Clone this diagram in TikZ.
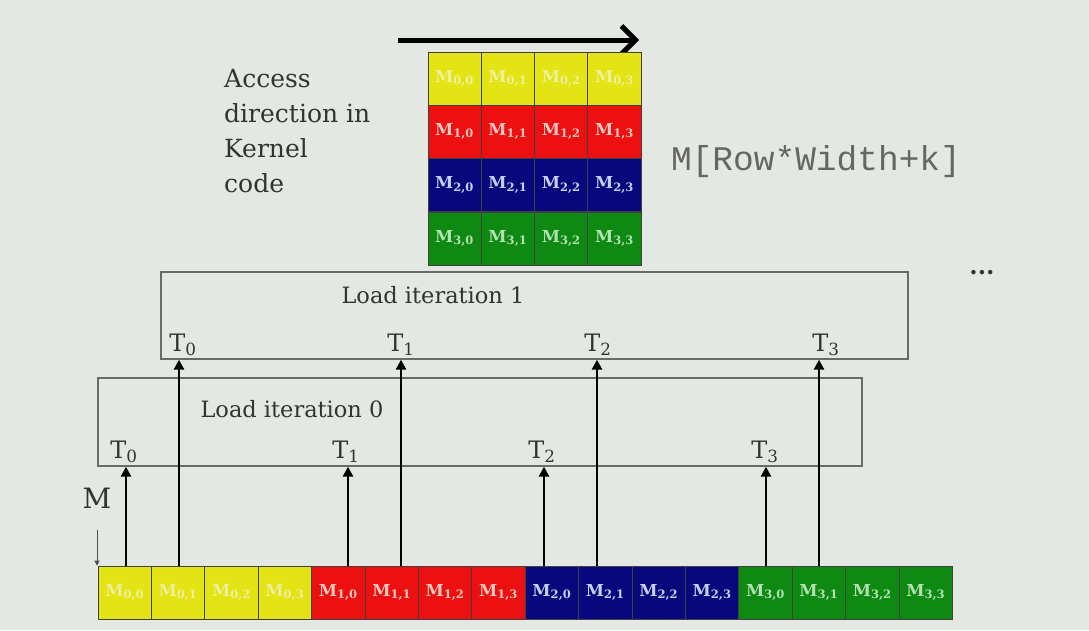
\documentclass[tikz,border=0pt]{standalone}
\usepackage{fontspec}
\setmainfont{DejaVu Serif}
\setmonofont{Liberation Mono}
\usetikzlibrary{arrows.meta}
\definecolor{bg}{HTML}{E3E8E2}
\definecolor{cy}{HTML}{E4E414}
\definecolor{cr}{HTML}{EC1010}
\definecolor{cb}{HTML}{08087E}
\definecolor{cg}{HTML}{0E8A12}
\definecolor{ty}{HTML}{EFEF9C}
\definecolor{tr}{HTML}{F8C8C0}
\definecolor{tb}{HTML}{C8D0F0}
\definecolor{tg}{HTML}{B4E0B4}
\definecolor{ink}{HTML}{333333}
\definecolor{boxline}{HTML}{6A6A6A}
\begin{document}
\begin{tikzpicture}[x=1pt,y=-1pt,
  cell/.style={draw=black!75, line width=0.8pt, minimum width=53.4pt, minimum height=53pt,
    inner sep=0pt, font=\fontsize{16.5}{16.5}\selectfont\bfseries},
  ycell/.style={cell, fill=cy, text=ty},
  rcell/.style={cell, fill=cr, text=tr},
  bcell/.style={cell, fill=cb, text=tb},
  gcell/.style={cell, fill=cg, text=tg},
  iterbox/.style={draw=boxline, line width=1.3pt, inner sep=0pt},
  tlabel/.style={text=ink, font=\fontsize{24}{24}\selectfont, inner sep=0pt},
  lbl/.style={text=ink, font=\fontsize{22.5}{22.5}\selectfont, inner sep=0pt},
  up/.style={line width=2.8pt, -{Triangle[length=10pt,width=10pt]}},
]
\fill[bg] (0,0) rectangle (1089,630);
\useasboundingbox (0,0) rectangle (1089,630);

% top access arrow
\coordinate (accs) at (398,40);
\coordinate (acce) at (639,40);
\draw[line width=5pt, -{Straight Barb[length=14pt,width=28pt,line width=5pt]}] (accs) -- (acce);

% matrix
\foreach \c in {0,1,2,3}{
  \node[ycell] (m0\c) at ({454.6+53.3*\c},78.5) {M\textsubscript{0,\c}};
  \node[rcell] (m1\c) at ({454.6+53.3*\c},131.5) {M\textsubscript{1,\c}};
  \node[bcell] (m2\c) at ({454.6+53.3*\c},185) {M\textsubscript{2,\c}};
  \node[gcell] (m3\c) at ({454.6+53.3*\c},238.5) {M\textsubscript{3,\c}};
}

% side texts
\node[anchor=north west, align=left, text=ink, inner sep=0pt,
  font=\fontsize{25}{35}\selectfont] (acc) at (224,69) {Access\\direction in\\Kernel\\code};
\node[text=black!60, inner sep=0pt, font=\ttfamily\fontsize{34.5}{34.5}\selectfont] (code) at (816,162) {M[Row*Width+k]};
\node[text=ink, inner sep=0pt, font=\fontsize{24}{24}\selectfont\bfseries] (dots) at (982,273) {...};

% iteration boxes
\node[iterbox, minimum width=747pt, minimum height=87pt] (box1) at (534.5,315.5) {};
\node[iterbox, minimum width=764pt, minimum height=88pt] (box0) at (480,422) {};
\node[lbl] (l1) at (433,295) {Load iteration 1};
\node[lbl] (l0) at (292,409) {Load iteration 0};

% bottom row
\foreach \c in {0,1,2,3}{
  \node[ycell] (r\c) at ({124.7+53.4*\c},592.5) {M\textsubscript{0,\c}};
  \pgfmathtruncatemacro{\k}{\c+4}
  \node[rcell] (r\k) at ({124.7+53.4*(\c+4)},592.5) {M\textsubscript{1,\c}};
  \pgfmathtruncatemacro{\k}{\c+8}
  \node[bcell] (r\k) at ({124.7+53.4*(\c+8)},592.5) {M\textsubscript{2,\c}};
  \pgfmathtruncatemacro{\k}{\c+12}
  \node[gcell] (r\k) at ({124.7+53.4*(\c+12)},592.5) {M\textsubscript{3,\c}};
}

% arrow feet
\coordinate (a0) at (126,566);
\coordinate (a1) at (348,566);
\coordinate (a2) at (544,566);
\coordinate (a3) at (766,566);
\coordinate (b0) at (179,566);
\coordinate (b1) at (401,566);
\coordinate (b2) at (597,566);
\coordinate (b3) at (819,566);
\foreach \i in {0,1,2,3}{
  \draw[up] (a\i) -- (a\i |- box0.south);
  \draw[up] (b\i) -- (b\i |- box1.south);
}

% T labels
\node[tlabel] (t00) at (124,452) {T\textsubscript{0}};
\node[tlabel] (t01) at (346,452) {T\textsubscript{1}};
\node[tlabel] (t02) at (542,452) {T\textsubscript{2}};
\node[tlabel] (t03) at (765,452) {T\textsubscript{3}};
\node[tlabel] (t10) at (183,345) {T\textsubscript{0}};
\node[tlabel] (t11) at (401,345) {T\textsubscript{1}};
\node[tlabel] (t12) at (598,345) {T\textsubscript{2}};
\node[tlabel] (t13) at (826,345) {T\textsubscript{3}};

% M label and pointer
\node[text=ink, inner sep=0pt, font=\fontsize{28}{28}\selectfont] (mlab) at (97,498) {M};
\coordinate (mp) at (97,530);
\draw[line width=0.9pt, draw=black!70, -{Triangle[length=5pt,width=5pt]}] (mp) -- (mp |- r0.north);
\end{tikzpicture}
\end{document}
